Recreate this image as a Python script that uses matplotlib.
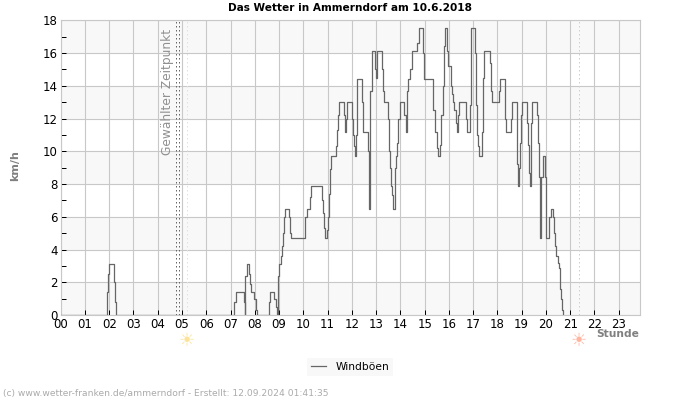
import numpy as np
import matplotlib
matplotlib.use('Agg')
import matplotlib.pyplot as plt

plt.rcParams['font.family'] = 'DejaVu Sans'

# Windboeen (Stunde, km/h)
hours = [0, 1.90, 1.96, 2.00, 2.21, 2.25, 2.28,
         7.16, 7.21, 7.54, 7.58, 7.60, 7.66, 7.75, 7.79, 7.83, 7.98, 8.04, 8.08,
         8.57, 8.64, 8.80, 8.86, 8.90, 8.94, 8.98, 9.07, 9.11, 9.15, 9.19, 9.23,
         9.42, 9.45, 9.48, 10.08, 10.17, 10.29, 10.33, 10.78, 10.83, 10.87, 10.91,
         10.99, 11.03, 11.07, 11.11, 11.16, 11.36, 11.40, 11.44, 11.49, 11.69, 11.73,
         11.77, 11.82, 12.02, 12.06, 12.10, 12.15, 12.19, 12.23, 12.43, 12.48, 12.68,
         12.72, 12.76, 12.82, 12.94, 12.98, 13.03, 13.23, 13.27, 13.32, 13.51, 13.55,
         13.59, 13.63, 13.67, 13.71, 13.76, 13.81, 13.88, 13.92, 13.99, 14.15, 14.24,
         14.28, 14.33, 14.40, 14.46, 14.50, 14.70, 14.75, 14.95, 14.99, 15.36, 15.41,
         15.49, 15.53, 15.57, 15.65, 15.69, 15.74, 15.78, 15.82, 15.94, 15.98, 16.07,
         16.11, 16.15, 16.23, 16.29, 16.33, 16.37, 16.41, 16.70, 16.74, 16.86, 16.90,
         16.92, 17.08, 17.12, 17.17, 17.21, 17.25, 17.37, 17.41, 17.46, 17.70, 17.74,
         17.79, 18.08, 18.12, 18.32, 18.37, 18.57, 18.61, 18.82, 18.86, 18.90, 18.94,
         18.99, 19.03, 19.23, 19.28, 19.32, 19.36, 19.40, 19.44, 19.65, 19.69, 19.73,
         19.77, 19.81, 19.86, 19.98, 20.02, 20.14, 20.19, 20.31, 20.35, 20.39, 20.43,
         20.48, 20.52, 20.56, 20.60, 20.64, 20.68, 20.72]
gusts = [0, 1.4, 2.5, 3.1, 2.0, 0.8, 0,
         0.8, 1.4, 0.8, 0, 2.4, 3.1, 2.5, 1.9, 1.4, 1.0, 0.3, 0,
         0.8, 1.4, 1.0, 0.5, 0, 2.4, 3.1, 3.6, 4.2, 5.0, 6.0, 6.5,
         6.0, 5.0, 4.7, 6.0, 6.5, 7.2, 7.85, 7.0, 6.2, 5.3, 4.7,
         5.2, 6.0, 7.4, 8.9, 9.7, 10.3, 11.3, 12.2, 13.0, 12.2, 11.2,
         12.0, 13.0, 12.0, 11.0, 10.3, 9.7, 11.0, 14.4, 13.0, 11.2, 10.0,
         6.5, 13.7, 16.1, 15.0, 14.5, 16.1, 15.0, 13.7, 13.0, 12.0, 10.0,
         9.0, 7.9, 7.3, 6.5, 9.0, 9.7, 10.5, 12.0, 13.0, 12.2, 11.2,
         13.7, 14.4, 15.0, 15.5, 16.1, 16.6, 17.5, 16.0, 14.4, 12.5, 11.2,
         10.7, 10.2, 9.7, 10.4, 12.2, 14.0, 16.4, 17.5, 16.1, 15.2, 14.0,
         13.5, 13.0, 12.5, 11.7, 11.2, 12.2, 13.0, 12.0, 11.2, 12.8, 16.1,
         17.5, 16.0, 12.8, 11.0, 10.3, 9.7, 11.2, 14.5, 16.1, 15.4, 13.7,
         13.0, 13.7, 14.4, 12.0, 11.2, 12.0, 13.0, 9.2, 7.9, 9.0, 10.5,
         12.2, 13.0, 11.7, 10.4, 8.7, 7.9, 11.7, 13.0, 12.2, 10.5, 8.4,
         4.7, 8.4, 9.7, 8.4, 4.7, 6.0, 6.5, 6.0, 5.0, 4.2, 3.6,
         3.2, 2.9, 2.0, 1.6, 1.0, 0.3, 0]
hour_labels = ['%02d' % h for h in range(24)]
selected_times = [4.74, 4.89]
sunrise = 5.22
sunset = 21.38

fig = plt.figure(figsize=(7, 4), dpi=100)
ax = fig.add_axes([60.7/700, 1-315/400, (640.3-60.7)/700, (315-20.3)/400])

# graue Baender und Gitter
for y0 in range(0, 18, 4):
    ax.axhspan(y0, y0+2, color='#f8f8f8', lw=0, zorder=0)
ax.set_xlim(0, 23.89)
ax.set_ylim(0, 18)
ax.set_xticks(range(24))
ax.set_xticklabels(hour_labels)
ax.set_yticks(range(0, 19, 2))
ax.set_yticks(range(1, 18, 2), minor=True)
ax.grid(True, which='major', color='#c8c8c8', lw=0.8, zorder=1)
ax.set_axisbelow(True)
ax.tick_params(axis='both', which='both', direction='in', length=3.6, width=0.72, labelsize=8.5, color='black', pad=2)
for s in ax.spines.values():
    s.set_color('#c8c8c8')
    s.set_linewidth(0.8)

for t in selected_times:
    ax.axvline(t, color='#666666', lw=0.72, ls=(0, (1.5, 2.5)), zorder=2)
ax.axvline(sunrise, color='#f5e88a', lw=0.72, ls=(0, (1.5, 2.5)), zorder=2)
ax.axvline(sunset, color='#f5c98a', lw=0.72, ls=(0, (1.5, 2.5)), zorder=2)

line, = ax.step(hours, gusts, where='post', color='#666666', lw=0.9, zorder=3, label='Windböen')

ax.text(4.42, 17.45, 'Gewählter Zeitpunkt', rotation=90, ha='center', va='top', fontsize=8.8, color='#909090', zorder=4)

fig.text(350/700, 1-8/400, 'Das Wetter in Ammerndorf am 10.6.2018', ha='center', va='center', fontsize=7.6, fontweight='bold', color='black')
fig.text(15/700, 1-166/400, 'km/h', rotation=90, ha='center', va='center', fontsize=8, fontweight='bold', color='#808080')
fig.text(639/700, 1-334/400, 'Stunde', ha='right', va='center', fontsize=7.7, fontweight='bold', color='#808080')
fig.text(3/700, 1-393.5/400, '(c) www.wetter-franken.de/ammerndorf - Erstellt: 12.09.2024 01:41:35', ha='left', va='center', fontsize=6.55, color='#aaaaaa')

# Sonnenauf- und -untergang
fig.text(186.5/700, 1-341/400, '☀', ha='center', va='center', fontsize=13, color='#fde39a')
fig.text(578.5/700, 1-341/400, '☀', ha='center', va='center', fontsize=13, color='#ffb5a0')

fig.legend(handles=[line], loc='center', bbox_to_anchor=(350/700, 1-367/400), frameon=True, facecolor='#f8f8f8',
           edgecolor='none', fancybox=False, fontsize=7.7, handlelength=1.4, handletextpad=0.9, borderpad=0.35, framealpha=1)

fig.savefig('out.png', dpi=100)
